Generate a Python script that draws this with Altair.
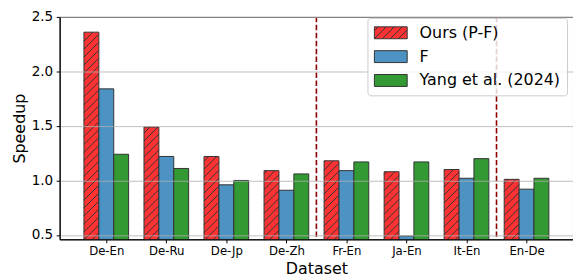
import json
import altair as alt
import pandas as pd

datasets = ["De-En", "De-Ru", "De-Jp", "De-Zh", "Fr-En", "Ja-En", "It-En", "En-De"]
series = ["Ours (P-F)", "F", "Yang et al. (2024)"]
ours = [2.36, 1.49, 1.22, 1.09, 1.18, 1.08, 1.10, 1.01]
f_vals = [1.84, 1.22, 0.96, 0.91, 1.09, 0.49, 1.02, 0.92]
yang = [1.24, 1.11, 1.00, 1.06, 1.17, 1.17, 1.20, 1.02]
separators = [3.5, 6.5]
colors = ["#FF3333", "#4C92C3", "#339933"]
edge = "#333333"
y_ticks = [0.5, 1.0, 1.5, 2.0, 2.5]

FONT = "DejaVu Sans"
W, H = 517, 224
TOP = 8
YMIN, YMAX = 0.46, 2.5
XMIN, XMAX = -0.777, 7.774
BW = 0.248
PX_X = W / (XMAX - XMIN)
PX_Y = H / (YMAX - YMIN)
SPACING = 8.0

rows = []
for s_i, (name, vals) in enumerate(zip(series, [ours, f_vals, yang])):
    for i, (d, v) in enumerate(zip(datasets, vals)):
        c = i + (s_i - 1) * BW
        rows.append(dict(dataset=d, series=name, value=v, xc=c, x0=c - BW / 2, x1=c + BW / 2))
bars = pd.DataFrame(rows)

# hatch segments for the first series, derived from its bars
hrows = []
for _, r in bars[bars.series == series[0]].iterrows():
    wpx = BW * PX_X
    hpx = (r.value - YMIN) * PX_Y
    left_px = (r.x0 - XMIN) * PX_X
    c = -wpx - ((left_px - wpx) % SPACING)
    while c < hpx:
        xs = max(0.0, -c)
        xe = min(wpx, hpx - c)
        if xe > xs:
            hrows.append(dict(hx=r.x0 + xs / PX_X, hy=YMIN + (xs + c) / PX_Y,
                              hx2=r.x0 + xe / PX_X, hy2=YMIN + (xe + c) / PX_Y))
        c += SPACING
hatch = pd.DataFrame(hrows)

# legend symbol paths (r = 8 px units)
R = 8.0
def rect_path():
    return "M-1,-0.75H3.125V0.75H-1Z"

def hatch_path():
    p = rect_path()
    x0 = -8 - 12 - 4
    while x0 < 25:
        ts = max(0.0, -8 - x0)
        te = min(12.0, 25 - x0)
        if te > ts:
            ax, ay = (x0 + ts) / R, (6 - ts) / R
            bx, by = (x0 + te) / R, (6 - te) / R
            p += f"M{ax:.3f},{ay:.3f}L{bx:.3f},{by:.3f}"
        x0 += SPACING
    return p

shape_range = [hatch_path(), rect_path(), rect_path()]

xscale = alt.Scale(domain=[XMIN, XMAX], nice=False, zero=False)
yscale = alt.Scale(domain=[YMIN, YMAX], nice=False, zero=False)
label_expr = json.dumps(datasets) + "[datum.value]"

x_axis = alt.Axis(values=list(range(len(datasets))), labelExpr=label_expr, grid=False,
                  labelFontSize=11.8, titleFontSize=16, tickSize=3.5, labelPadding=3,
                  titlePadding=3, zindex=1)
y_axis = alt.Axis(values=y_ticks, format=".1f", grid=True, gridColor="#b0b0b0",
                  gridOpacity=0.8, gridWidth=1, labelFontSize=13.6, titleFontSize=16,
                  tickSize=3.5, labelPadding=3.5, titlePadding=4, zindex=1)

fill_scale = alt.Scale(domain=series, range=colors)

legend_kw = dict(title=None, orient="none", legendX=310, legendY=1,
                 fillColor="rgba(255,255,255,0.8)",
                 strokeColor="#cccccc", cornerRadius=3, padding=6.5, symbolSize=256,
                 symbolOpacity=1, symbolStrokeColor=edge, symbolStrokeWidth=1,
                 labelFont=FONT, labelFontSize=16, labelColor="black", labelOffset=29,
                 rowPadding=7, labelLimit=0, zindex=2)

bar_layer = alt.Chart(bars).mark_bar(stroke=edge, strokeWidth=1, clip=True).encode(
    x=alt.X("x0:Q", scale=xscale, axis=x_axis, title="Dataset"),
    x2="x1:Q",
    y=alt.Y("value:Q", scale=yscale, axis=y_axis, title="Speedup"),
    y2=alt.datum(0),
    fill=alt.Fill("series:N", scale=fill_scale, legend=alt.Legend(**legend_kw)),
)

hatch_layer = alt.Chart(hatch).mark_rule(color=edge, strokeWidth=1, clip=True).encode(
    x=alt.X("hx:Q", scale=xscale, title="Dataset"),
    x2="hx2:Q",
    y=alt.Y("hy:Q", scale=yscale, title="Speedup"),
    y2="hy2:Q",
)

sep_layer = alt.Chart(pd.DataFrame({"pos": separators})).mark_rule(
    color="#8B0000", strokeWidth=1.6, strokeDash=[5.5, 2.5]
).encode(x=alt.X("pos:Q", scale=xscale, title="Dataset"))

legend_layer = alt.Chart(bars).mark_point(filled=True, opacity=0, strokeWidth=1).encode(
    x=alt.X("xc:Q", scale=xscale, title="Dataset"),
    y=alt.Y("value:Q", scale=yscale, title="Speedup"),
    fill=alt.Fill("series:N", scale=fill_scale, legend=alt.Legend(**legend_kw)),
    shape=alt.Shape("series:N", scale=alt.Scale(domain=series, range=shape_range),
                    legend=alt.Legend(**legend_kw)),
    stroke=alt.Stroke("series:N", scale=alt.Scale(domain=series, range=[edge] * 3),
                      legend=alt.Legend(**legend_kw)),
)

chart = alt.layer(bar_layer, hatch_layer, sep_layer, legend_layer).properties(
    width=W, height=H,
    autosize=alt.AutoSizeParams(type="none"),
    padding={"left": 52, "top": TOP, "right": 0, "bottom": 40},
).configure(font=FONT).configure_view(stroke="black", strokeWidth=1).configure_axis(
    domainColor="black", domainWidth=1, tickColor="black", tickWidth=1,
    labelColor="black", titleColor="black", titleFontWeight="normal",
    labelFont=FONT, titleFont=FONT,
)

chart.save("out.html", embed_options={"renderer": "svg", "actions": False})
